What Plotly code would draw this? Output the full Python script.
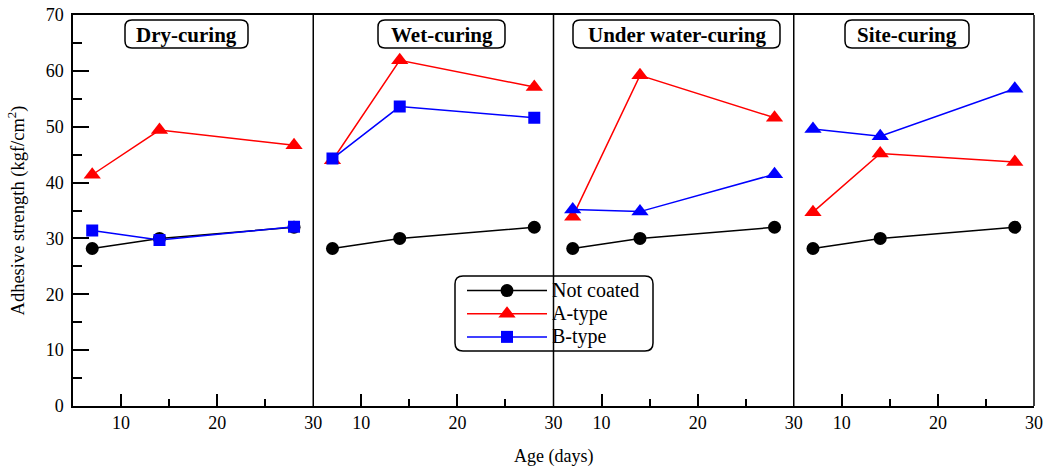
import plotly.graph_objects as go

# ---------------- data ----------------
ages = [7, 14, 28]
panels = ["Dry-curing", "Wet-curing", "Under water-curing", "Site-curing"]
not_coated = {
    "Dry-curing": [28.2, 30.0, 32.0],
    "Wet-curing": [28.2, 30.0, 32.0],
    "Under water-curing": [28.2, 30.0, 32.0],
    "Site-curing": [28.2, 30.0, 32.0],
}
a_type = {
    "Dry-curing": [41.4, 49.4, 46.7],
    "Wet-curing": [44.0, 61.9, 57.1],
    "Under water-curing": [33.9, 59.2, 51.6],
    "Site-curing": [34.7, 45.2, 43.7],
}
b_type = {
    "Dry-curing": [31.4, 29.7, 32.1],
    "Wet-curing": [44.3, 53.6, 51.6],
    "Under water-curing": [35.2, 34.8, 41.5],
    "Site-curing": [49.6, 48.3, 56.8],
}
b_symbols = {
    "Dry-curing": "square",
    "Wet-curing": "square",
    "Under water-curing": "triangle-up",
    "Site-curing": "triangle-up",
}
series_names = ["Not coated", "A-type", "B-type"]
x_ticks = [10, 20, 30]
x_minor = [15, 25]

# ---------------- layout helpers ----------------
W, H = 1050, 466
L, R, T, B = 73, 16, 15, 60
PW, PH = W - L - R, H - T - B


def px(x):
    return (x - L) / PW


def py(y):
    return (H - B - y) / PH


FONT = "Liberation Serif, Times New Roman, serif"


def leg(name):
    return f'<span style="font-size:20px">{name}</span>'


fig = go.Figure()

for i, p in enumerate(panels):
    xa = "x" if i == 0 else f"x{i+1}"
    fig.add_trace(go.Scatter(
        x=ages, y=not_coated[p], xaxis=xa, yaxis="y", mode="lines+markers",
        name=leg(series_names[0]), legendgroup="nc", showlegend=(i == 0),
        line=dict(color="black", width=1.5),
        marker=dict(symbol="circle", size=13, color="black")))
    fig.add_trace(go.Scatter(
        x=ages, y=a_type[p], xaxis=xa, yaxis="y", mode="lines+markers",
        name=leg(series_names[1]), legendgroup="a", showlegend=(i == 0),
        line=dict(color="#ff0000", width=1.5),
        marker=dict(symbol="triangle-up", size=15, color="#ff0000")))
    fig.add_trace(go.Scatter(
        x=ages, y=b_type[p], xaxis=xa, yaxis="y", mode="lines+markers",
        name=leg(series_names[2]), legendgroup="b", showlegend=(i == 0),
        line=dict(color="#0000ff", width=1.5),
        marker=dict(symbol=b_symbols[p], size=12 if b_symbols[p] == "square" else 15,
                    color="#0000ff")))

axis_common = dict(
    range=[5, 30], tickvals=x_ticks, ticks="inside", ticklen=12, tickwidth=1.5,
    tickcolor="black", showline=True, linecolor="black", linewidth=1.5,
    mirror=True, showgrid=False, zeroline=False, automargin=False,
    tickfont=dict(family=FONT, size=18, color="black"),
    minor=dict(tickvals=x_minor, ticks="inside", ticklen=7, tickwidth=1.5, tickcolor="black"),
    anchor="y",
)
layout = dict(
    width=W, height=H,
    margin=dict(l=L, r=R, t=T, b=B),
    plot_bgcolor="white", paper_bgcolor="white",
    font=dict(family=FONT, color="black"),
    yaxis=dict(
        range=[0, 70], dtick=10, ticks="inside", ticklen=16, tickwidth=1.5,
        tickcolor="black", showline=True, linecolor="black", linewidth=1.5,
        showgrid=False, zeroline=False, anchor="x", automargin=False,
        ticklabelstandoff=4,
        tickfont=dict(family=FONT, size=18, color="black"),
        minor=dict(dtick=5, ticks="inside", ticklen=9, tickwidth=1.5, tickcolor="black"),
        title=dict(text="Adhesive strength (kgf/cm<sup>2</sup>)",
                   font=dict(family=FONT, size=18.5, color="black"), standoff=16),
    ),
    showlegend=True,
    legend=dict(
        x=px(462), y=py(274), xanchor="left", yanchor="top",
        bgcolor="rgba(0,0,0,0)", borderwidth=0,
        font=dict(family=FONT, size=15.5, color="black"),
        itemwidth=80, tracegroupgap=0,
    ),
)
for i in range(4):
    key = "xaxis" if i == 0 else f"xaxis{i+1}"
    layout[key] = dict(axis_common, domain=[i * 0.25, (i + 1) * 0.25])
fig.update_layout(**layout)


def rounded_rect(x0, y0, x1, y1, r):
    # pixel coords -> paper path with rounded corners
    def P(x, y):
        return f"{px(x):.5f},{py(y):.5f}"
    return (f"M {P(x0 + r, y0)} L {P(x1 - r, y0)} Q {P(x1, y0)} {P(x1, y0 + r)} "
            f"L {P(x1, y1 - r)} Q {P(x1, y1)} {P(x1 - r, y1)} "
            f"L {P(x0 + r, y1)} Q {P(x0, y1)} {P(x0, y1 - r)} "
            f"L {P(x0, y0 + r)} Q {P(x0, y0)} {P(x0 + r, y0)} Z")


shapes = []
# panel dividers and right border
for xv in [0.25, 0.5, 0.75, 1.0]:
    shapes.append(dict(type="line", xref="paper", yref="paper", x0=xv, x1=xv, y0=0, y1=1,
                       line=dict(color="black", width=1.5)))
# legend box
shapes.append(dict(type="path", xref="paper", yref="paper",
                   path=rounded_rect(455, 276, 653, 351, 8),
                   fillcolor="white", line=dict(color="black", width=1.5), layer="below"))
# title boxes (pixel extents)
title_boxes = [(125, 20, 248, 48), (378, 20, 505, 48), (573, 20, 780, 48), (845, 20, 969, 48)]
for (x0, y0, x1, y1) in title_boxes:
    shapes.append(dict(type="path", xref="paper", yref="paper",
                       path=rounded_rect(x0, y0, x1, y1, 7),
                       fillcolor="white", line=dict(color="black", width=1.5), layer="above"))
fig.update_layout(shapes=shapes)

annotations = []
for p, (x0, y0, x1, y1) in zip(panels, title_boxes):
    annotations.append(dict(text=f"<b>{p}</b>", xref="paper", yref="paper",
                            x=px((x0 + x1) / 2), y=py((y0 + y1) / 2 + 0.5),
                            xanchor="center", yanchor="middle", showarrow=False,
                            font=dict(family=FONT, size=21, color="black")))
annotations.append(dict(text="Age (days)", xref="paper", yref="paper",
                        x=px(553), y=py(456), xanchor="center", yanchor="middle",
                        showarrow=False, font=dict(family=FONT, size=18, color="black")))
fig.update_layout(annotations=annotations)

fig.write_html("out.html")
